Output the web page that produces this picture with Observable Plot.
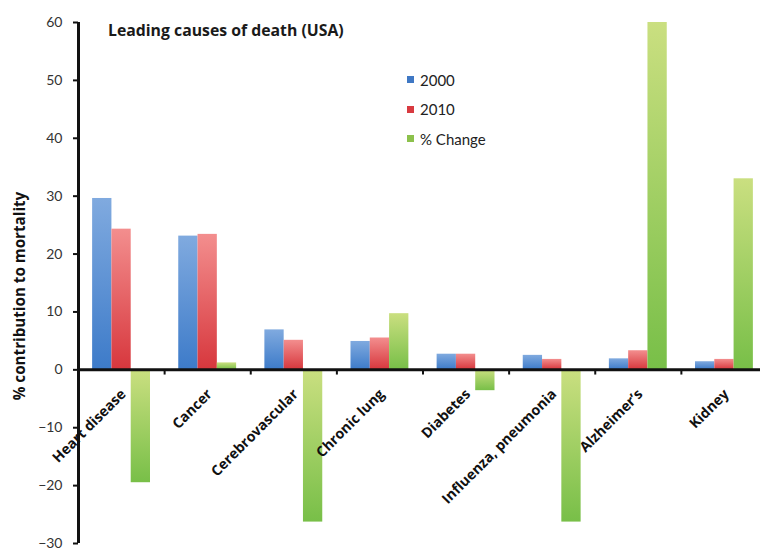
<!DOCTYPE html>
<html>
<head>
<meta charset="utf-8">
<script src="https://cdn.jsdelivr.net/npm/d3@7"></script>
<script src="https://cdn.jsdelivr.net/npm/@observablehq/plot@0.6"></script>
<style>
  body { margin: 0; background: #fff; }
  #wrap { position: relative; width: 760px; height: 550px; overflow: hidden; font-family: Lato, "Open Sans", sans-serif; color: #111; }
  #title { position: absolute; left: 108px; top: 19px; font-family: "Open Sans", sans-serif; font-weight: bold; font-size: 15.8px; color: #1a1a1a; white-space: nowrap; line-height: 22px; }
  #ytitle { position: absolute; left: 19px; top: 296px; transform: translate(-50%, -50%) rotate(-90deg); font-family: "Open Sans", sans-serif; font-weight: bold; font-size: 15.2px; white-space: nowrap; color: #111; }
  #legend { position: absolute; left: 407px; top: 65px; font-size: 15px; color: #222; }
  #legend .row { display: flex; align-items: center; height: 29.5px; }
  #legend .sw { width: 7px; height: 7px; margin-right: 6px; }
</style>
</head>
<body>
<div id="wrap">
  <div id="chart"></div>
  <div id="title">Leading causes of death (USA)</div>
  <div id="ytitle">% contribution to mortality</div>
  <div id="legend"></div>
</div>
<script>
// ---- data ----
const categories = ["Heart disease", "Cancer", "Cerebrovascular", "Chronic lung", "Diabetes", "Influenza, pneumonia", "Alzheimer\u2019s", "Kidney"];
const seriesNames = ["2000", "2010", "% Change"];
const values2000 = [29.6, 23.1, 6.9, 4.9, 2.7, 2.5, 1.9, 1.4];
const values2010 = [24.3, 23.4, 5.1, 5.5, 2.7, 1.8, 3.3, 1.8];
const pctChange = [-19.5, 1.2, -26.3, 9.7, -3.6, -26.3, 60, 33.0];
const yTicks = [-30, -20, -10, 0, 10, 20, 30, 40, 50, 60];

// ---- styling ----
const swatchColors = ["#3f78c4", "#d83a40", "#8cc14c"];
const gradStops = [["#80aadf", "#3d7bc9"], ["#f38e8e", "#d7373d"], ["#cadf80", "#78bf48"]];

const seriesValues = [values2000, values2010, pctChange];
const rows = seriesValues.map((vals, k) => categories.map((c, i) => ({cat: c, i, k, series: seriesNames[k], v: vals[i]})));

const groupStart = 0.164, barW = 0.224;
const barMark = (k) => Plot.rectY(rows[k], {
  x1: d => d.i + groupStart + d.k * barW,
  x2: d => d.i + groupStart + (d.k + 1) * barW,
  y1: 0,
  y2: "v",
  fill: `url(#grad${k})`
});

const chart = Plot.plot({
  width: 760,
  height: 550,
  marginTop: 22,
  marginBottom: 7,
  marginLeft: 78,
  marginRight: 0,
  style: {fontFamily: "Lato, 'Open Sans', sans-serif", background: "transparent"},
  x: {type: "linear", domain: [0, categories.length], range: [78, 767], axis: null},
  y: {domain: [-30, 60], axis: null},
  marks: [
    barMark(0), barMark(1), barMark(2),
    Plot.axisY(yTicks, {anchor: "left", tickSize: 5, tickPadding: 11, fontSize: 14, strokeWidth: 2, stroke: "#111", fill: "#333", label: null}),
    Plot.ruleY([0], {x1: 0, x2: categories.length, stroke: "#111", strokeWidth: 3}),
    Plot.ruleX(categories.slice(1).map((c, i) => i + 1), {y1: 0, y2: -0.9, stroke: "#111", strokeWidth: 2}),
    Plot.ruleX([0], {y1: -30, y2: 60, stroke: "#111", strokeWidth: 3}),
    Plot.text(categories, {
      x: (d, i) => i + 0.5, y: 0, text: d => d,
      rotate: -45, textAnchor: "end", dx: 2, dy: 22,
      fontFamily: "'Open Sans', sans-serif",
      fontWeight: "bold", fontSize: 14.2, fill: "#111"
    })
  ]
});
document.getElementById("chart").appendChild(chart);

// gradients for bar fills
const svg = d3.select(chart.tagName.toLowerCase() === "svg" ? chart : chart.querySelector("svg"));
const defs = svg.insert("defs", ":first-child");
gradStops.forEach((s, k) => {
  const g = defs.append("linearGradient").attr("id", `grad${k}`).attr("x1", 0).attr("y1", 0).attr("x2", 0).attr("y2", 1);
  g.append("stop").attr("offset", "0%").attr("stop-color", s[0]);
  g.append("stop").attr("offset", "100%").attr("stop-color", s[1]);
});

// legend
const legend = d3.select("#legend");
seriesNames.forEach((name, k) => {
  const row = legend.append("div").attr("class", "row");
  row.append("div").attr("class", "sw").style("background", swatchColors[k]);
  row.append("span").text(name);
});
</script>
</body>
</html>
